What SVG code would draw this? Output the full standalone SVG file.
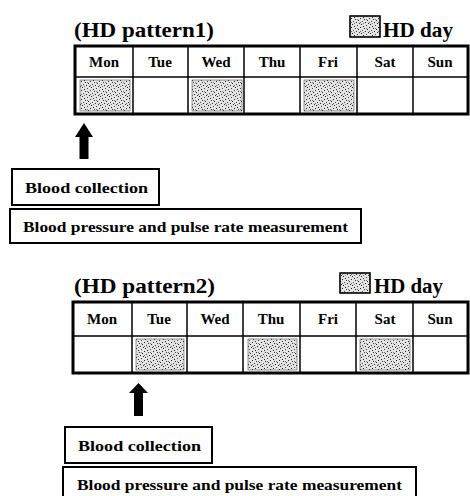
<svg xmlns="http://www.w3.org/2000/svg" width="470" height="496" viewBox="0 0 470 496">
<defs>
<pattern id="dots" width="9" height="9" patternUnits="userSpaceOnUse">
<rect width="9" height="9" fill="#e4e4e4"/>
<rect x="0" y="0" width="1" height="1" fill="#222"/>
<rect x="4" y="1" width="1" height="1" fill="#333"/>
<rect x="7" y="2" width="1" height="1" fill="#222"/>
<rect x="2" y="3" width="1" height="1" fill="#444"/>
<rect x="5" y="4" width="1" height="1" fill="#222"/>
<rect x="8" y="5" width="1" height="1" fill="#333"/>
<rect x="1" y="6" width="1" height="1" fill="#222"/>
<rect x="6" y="7" width="1" height="1" fill="#444"/>
<rect x="3" y="8" width="1" height="1" fill="#222"/>
<rect x="0" y="4" width="1" height="1" fill="#666"/>
<rect x="6" y="1" width="1" height="1" fill="#777"/>
<rect x="3" y="5" width="1" height="1" fill="#777"/>
</pattern>
</defs>
<style>
.title{font-family:"Liberation Serif",serif;font-size:21px;fill:#000;font-weight:bold}
.hd{font-family:"Liberation Serif",serif;font-size:15px;font-weight:bold;fill:#000;text-anchor:middle}
.lbl{font-family:"Liberation Serif",serif;font-size:15.5px;font-weight:bold;fill:#000}
.outer{fill:none;stroke:#000;stroke-width:3}
.inner{stroke:#000;stroke-width:1.5;fill:none}
.box{fill:#fff;stroke:#000;stroke-width:2}
.shade{fill:url(#dots);stroke:#555;stroke-width:0.6}
.arrow{fill:#000}
</style>

<g id="pattern1">
<text class="title" x="74" y="37" textLength="140" lengthAdjust="spacingAndGlyphs">(HD pattern1)</text>
<rect class="shade" x="350" y="16" width="30" height="21"/>
<rect x="350" y="16" width="30" height="21" fill="none" stroke="#000" stroke-width="1.5"/>
<text class="title" x="383" y="37" textLength="70" lengthAdjust="spacingAndGlyphs">HD day</text>
<rect class="shade" x="80" y="80" width="50" height="31"/>
<rect class="shade" x="192" y="80" width="50" height="31"/>
<rect class="shade" x="304" y="80" width="50" height="31"/>
<path class="inner" d="M75 77H468M133 46V114M188 46V114M244 46V114M300 46V114M357 46V114M413 46V114"/>
<rect class="outer" x="75" y="46" width="393" height="68"/>
<text class="hd" x="104" y="67">Mon</text>
<text class="hd" x="160" y="67">Tue</text>
<text class="hd" x="216" y="67">Wed</text>
<text class="hd" x="272" y="67">Thu</text>
<text class="hd" x="328" y="67">Fri</text>
<text class="hd" x="385" y="67">Sat</text>
<text class="hd" x="440" y="67">Sun</text>
</g>

<g id="connectors">
<path class="arrow" d="M84 123L93 137H88.5V159H79.5V137H75Z"/>
<path class="arrow" d="M138.5 383L148 393H143V416H134V393H129Z"/>
</g>

<g id="blood1">
<rect class="box" x="12" y="169" width="147" height="36"/>
<text class="lbl" x="25" y="193" textLength="123" lengthAdjust="spacingAndGlyphs">Blood collection</text>
</g>
<g id="bp1">
<rect class="box" x="10" y="209" width="351" height="34"/>
<text class="lbl" x="23" y="232" textLength="325" lengthAdjust="spacingAndGlyphs">Blood pressure and pulse rate measurement</text>
</g>

<g id="pattern2">
<text class="title" x="74" y="293" textLength="141" lengthAdjust="spacingAndGlyphs">(HD pattern2)</text>
<rect class="shade" x="340" y="273" width="30" height="20"/>
<rect x="340" y="273" width="30" height="20" fill="none" stroke="#000" stroke-width="1.5"/>
<text class="title" x="374" y="293" textLength="69" lengthAdjust="spacingAndGlyphs">HD day</text>
<rect class="shade" x="136" y="339" width="48" height="31"/>
<rect class="shade" x="248" y="339" width="49" height="31"/>
<rect class="shade" x="360" y="339" width="50" height="31"/>
<path class="inner" d="M73 336H468M132 302V373M187 302V373M243 302V373M300 302V373M356 302V373M413 302V373"/>
<rect class="outer" x="73" y="302" width="395" height="71"/>
<text class="hd" x="102" y="324">Mon</text>
<text class="hd" x="159" y="324">Tue</text>
<text class="hd" x="215" y="324">Wed</text>
<text class="hd" x="271" y="324">Thu</text>
<text class="hd" x="328" y="324">Fri</text>
<text class="hd" x="385" y="324">Sat</text>
<text class="hd" x="440" y="324">Sun</text>
</g>

<g id="blood2">
<rect class="box" x="65" y="427" width="147" height="36"/>
<text class="lbl" x="78" y="451" textLength="123" lengthAdjust="spacingAndGlyphs">Blood collection</text>
</g>
<g id="bp2">
<rect class="box" x="63" y="467" width="353" height="36"/>
<text class="lbl" x="77" y="490" textLength="325" lengthAdjust="spacingAndGlyphs">Blood pressure and pulse rate measurement</text>
</g>
</svg>
